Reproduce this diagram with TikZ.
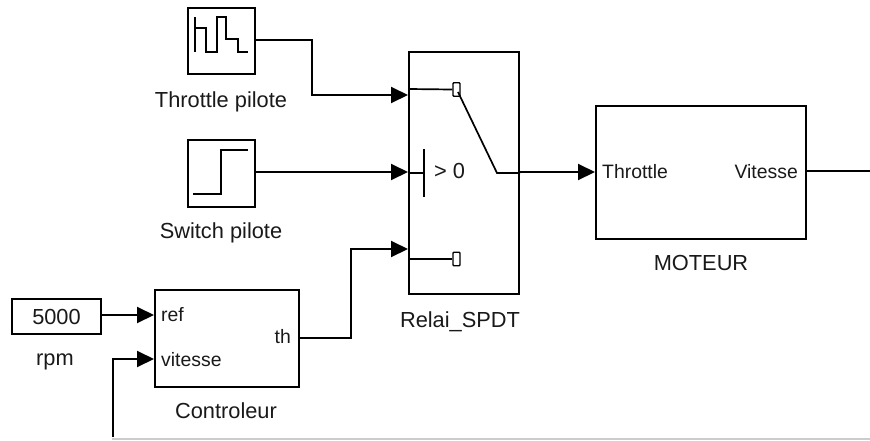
\documentclass[tikz,border=0pt]{standalone}
\usepackage{fontspec}
\setmainfont{Liberation Sans}
\usetikzlibrary{arrows.meta}
\begin{document}
\begin{tikzpicture}[x=1pt,y=-1pt,
  blockbox/.style={draw=black,line width=2pt,fill=white,inner sep=0pt,minimum width=0pt},
  wire/.style={draw=black,line width=2pt,line join=miter},
  sig/.style={wire,-{Triangle[length=17pt,width=16pt]}},
  glyph/.style={draw=black,line width=1.7pt},
  contact/.style={draw=black,line width=1.4pt,fill=white,rounded corners=0.8pt,inner sep=0pt,minimum width=7pt,minimum height=13.5pt},
  lbl/.style={font=\fontsize{21.8}{25}\selectfont,inner sep=0pt,text=black!90},
  port/.style={font=\fontsize{19.4}{23}\selectfont,inner sep=0pt,text=black!90}]
\useasboundingbox (0,0) rectangle (870,440);
% blocks
\node[blockbox,minimum width=67pt,minimum height=66pt] (thr) at (221.5,41) {};
\node[blockbox,minimum width=67pt,minimum height=67pt] (swi) at (221.5,173.5) {};
\node[blockbox,minimum width=110pt,minimum height=242pt] (rel) at (464,173) {};
\node[blockbox,minimum width=210pt,minimum height=133pt] (mot) at (701,172.5) {};
\node[blockbox,minimum width=144pt,minimum height=97pt] (ctl) at (227,338.5) {};
\node[blockbox,minimum width=89pt,minimum height=35pt] (cst) at (56.5,316.5) {\fontsize{21.8}{25}\selectfont\textcolor{black!90}{5000}};
% labels
\node[lbl] (lthr) at (221,101.5) {Throttle pilote};
\node[lbl] (lswi) at (221,233) {Switch pilote};
\node[lbl] (lrel) at (460,321.5) {Relai\_SPDT};
\node[lbl] (lmot) at (701,263) {MOTEUR};
\node[lbl] (lctl) at (226,411) {Controleur};
\node[lbl] (lrpm) at (55,361.5) {rpm};
% ports
\node[port,anchor=west] (pthr) at (602,172) {Throttle};
\node[port,anchor=east] (pvit) at (798,172) {Vitesse};
\node[port,anchor=west] (pref) at (161,315) {ref};
\node[port,anchor=west] (pvi2) at (161,359.5) {vitesse};
\node[port,anchor=east] (pth) at (291,337) {th};
% glyph in source
\draw[glyph] (195,17) -- (195,52) (195,28) -- (206,28) -- (206,52) -- (217,52) -- (217,17) -- (226,17) -- (226,39) -- (238,39) -- (238,52) -- (248,52);
\draw[glyph] (193,194) -- (221,194) -- (221,150) -- (248,150);
% switch glyph
\coordinate (r1) at (409,89);
\coordinate (r2) at (409,173);
\coordinate (r3) at (409,259);
\node[contact] (c1) at (456.5,89.5) {};
\node[contact] (c3) at (456.5,259) {};
\coordinate (sk) at (497,173);
\draw[glyph] (r1) -- (c1.west);
\draw[glyph] (r3) -- (c3.west);
\draw[glyph] (458,92) -- (sk) -- (rel.east |- sk);
\coordinate (bar) at (424,173);
\draw[glyph] (r2) -- (bar);
\draw[glyph] (424,149) -- (424,197);
\node[font=\fontsize{21.8}{25}\selectfont,inner sep=0pt,anchor=west,text=black!90] (gt) at (434,171) {> 0};
% connectors
\coordinate (b1) at (312,40);
\coordinate (b1e) at (312,95);
\coordinate (b3) at (351,338);
\coordinate (b3e) at (351,249);
\coordinate (fb1) at (113,437);
\coordinate (fb2) at (113,359);
\draw[sig] (thr.east |- b1) -- (b1) -- (b1e) -- (rel.west |- b1e);
\draw[sig] (swi.east |- 0,172) -- (rel.west |- 0,172);
\draw[sig] (ctl.east |- b3) -- (b3) -- (b3e) -- (rel.west |- b3e);
\draw[sig] (rel.east |- 0,172) -- (mot.west |- 0,172);
\draw[wire] (mot.east |- 0,171) -- (870,171);
\draw[sig] (cst.east |- 0,315) -- (ctl.west |- 0,315);
\draw[sig] (fb1) -- (fb2) -- (ctl.west |- fb2);
\draw[draw=black!20,line width=1.3pt] (112,439) -- (870,439);
\end{tikzpicture}
\end{document}
